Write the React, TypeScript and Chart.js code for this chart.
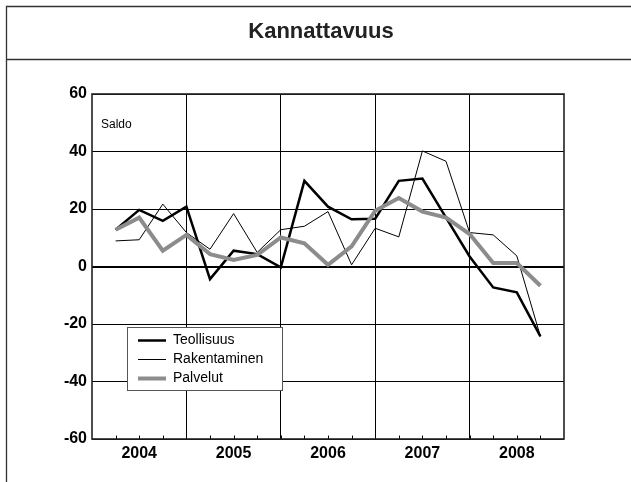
import React, { useEffect, useRef } from "react";
import { Chart, registerables } from "chart.js";

Chart.register(...registerables);

const chartTitle = "Kannattavuus";
const unitLabel = "Saldo";
const years = ["2004", "2005", "2006", "2007", "2008"];
const quarters = [
  "2004Q1", "2004Q2", "2004Q3", "2004Q4",
  "2005Q1", "2005Q2", "2005Q3", "2005Q4",
  "2006Q1", "2006Q2", "2006Q3", "2006Q4",
  "2007Q1", "2007Q2", "2007Q3", "2007Q4",
  "2008Q1", "2008Q2", "2008Q3",
];
const seriesNames = ["Teollisuus", "Rakentaminen", "Palvelut"];
const teollisuus = [12.8, 19.7, 15.9, 20.8, -4.4, 5.5, 4.3, -0.3, 29.8, 20.8, 16.4, 16.6, 29.8, 30.6, 17.0, 3.5, -7.3, -9.0, -24.3];
const rakentaminen = [8.9, 9.3, 21.7, 11.8, 6.0, 18.4, 4.9, 12.8, 14.0, 19.1, 0.6, 13.3, 10.3, 40.2, 36.6, 11.8, 11.0, 3.7, -24.3];
const palvelut = [12.8, 17.0, 5.5, 11.0, 4.3, 2.3, 4.0, 10.1, 8.1, 0.6, 7.0, 19.4, 23.8, 19.1, 17.0, 11.3, 1.2, 1.2, -6.7];
const yMin = -60;
const yMax = 60;
const yStep = 20;

const FONT = '"Liberation Sans", Arial, Helvetica, sans-serif';

const toPoints = (vals: number[]) => vals.map((v, i) => ({ x: i + 1, y: v }));

const decorPlugin = {
  id: "decor",
  beforeDraw(chart: any) {
    const ctx = chart.ctx;
    ctx.save();
    ctx.fillStyle = "#fff";
    ctx.fillRect(0, 0, chart.width, chart.height);
    ctx.strokeStyle = "#333";
    ctx.lineWidth = 1.3;
    ctx.beginPath();
    ctx.moveTo(6.5, chart.height);
    ctx.lineTo(6.5, 6.5);
    ctx.lineTo(chart.width, 6.5);
    ctx.moveTo(6.5, 59.5);
    ctx.lineTo(chart.width, 59.5);
    ctx.stroke();
    ctx.fillStyle = "#222";
    ctx.font = `bold 22px ${FONT}`;
    ctx.textAlign = "center";
    ctx.textBaseline = "middle";
    ctx.fillText(chartTitle, 321, 32);
    ctx.restore();
  },
  beforeDatasetsDraw(chart: any) {
    const ctx = chart.ctx;
    const a = chart.chartArea;
    const xs = chart.scales.x;
    ctx.save();
    // minor ticks (quarters) inside along bottom axis
    ctx.strokeStyle = "#000";
    ctx.lineWidth = 1;
    ctx.beginPath();
    for (let i = 1; i < quarters.length + 1; i++) {
      const px = Math.round(xs.getPixelForValue(i)) + 0.5;
      ctx.moveTo(px, a.bottom);
      ctx.lineTo(px, a.bottom - 3.5);
    }
    ctx.stroke();
    // plot border
    ctx.strokeStyle = "#222";
    ctx.lineWidth = 1.6;
    ctx.strokeRect(a.left, a.top, a.right - a.left, a.bottom - a.top);
    // unit label
    ctx.fillStyle = "#000";
    ctx.font = `12px ${FONT}`;
    ctx.textAlign = "left";
    ctx.textBaseline = "middle";
    ctx.fillText(unitLabel, a.left + 9, a.top + 31);
    ctx.restore();
  },
  afterDatasetsDraw(chart: any) {
    const ctx = chart.ctx;
    const a = chart.chartArea;
    const lx = a.left + 35;
    const ly = a.top + 233;
    const w = 155;
    const h = 63;
    ctx.save();
    ctx.fillStyle = "#fff";
    ctx.fillRect(lx, ly, w, h);
    ctx.strokeStyle = "#555";
    ctx.lineWidth = 1;
    ctx.strokeRect(lx + 0.5, ly + 0.5, w, h);
    ctx.font = `14px ${FONT}`;
    ctx.textAlign = "left";
    ctx.textBaseline = "middle";
    const dsList = chart.data.datasets;
    dsList.forEach((ds: any, i: number) => {
      const y = ly + 13.5 + i * 19;
      ctx.strokeStyle = ds.borderColor;
      ctx.lineWidth = ds.borderWidth;
      ctx.beginPath();
      ctx.moveTo(lx + 11, y);
      ctx.lineTo(lx + 39, y);
      ctx.stroke();
      ctx.fillStyle = "#000";
      ctx.fillText(ds.label, lx + 46, y);
    });
    ctx.restore();
  },
};

export default function App() {
  const ref = useRef<HTMLCanvasElement | null>(null);
  useEffect(() => {
    if (!ref.current) return;
    const chart = new Chart(ref.current, {
      type: "line",
      data: {
        datasets: [
          {
            label: seriesNames[0],
            data: toPoints(teollisuus),
            borderColor: "#000",
            borderWidth: 2.5,
            pointRadius: 0,
            tension: 0,
            order: 1,
          },
          {
            label: seriesNames[1],
            data: toPoints(rakentaminen),
            borderColor: "#000",
            borderWidth: 1,
            pointRadius: 0,
            tension: 0,
            order: 2,
          },
          {
            label: seriesNames[2],
            data: toPoints(palvelut),
            borderColor: "#8c8c8c",
            borderWidth: 4,
            pointRadius: 0,
            tension: 0,
            order: 0,
          },
        ],
      },
      options: {
        animation: false,
        responsive: false,
        devicePixelRatio: 1,
        layout: { padding: { top: 94, right: 67, left: 0, bottom: 0 } },
        plugins: {
          legend: { display: false },
          title: { display: false },
          tooltip: { enabled: false },
        },
        scales: {
          x: {
            type: "linear",
            min: 0,
            max: years.length * 4,
            afterFit: (s: any) => {
              s.height = 43;
            },
            border: { display: false },
            grid: {
              drawTicks: false,
              color: (c: any) => {
                const v = c.tick ? c.tick.value : -1;
                return v % 4 === 0 && v > 0 && v < years.length * 4 ? "#000" : "rgba(0,0,0,0)";
              },
              lineWidth: 1,
            },
            ticks: {
              stepSize: 1,
              maxTicksLimit: 100,
              autoSkip: false,
              maxRotation: 0,
              padding: 5,
              color: "#000",
              font: { family: FONT, size: 16, weight: "bold" },
              callback: (v: any) => {
                const n = Number(v);
                return (n - 2) % 4 === 0 ? years[(n - 2) / 4] : "";
              },
            },
          },
          y: {
            min: yMin,
            max: yMax,
            afterFit: (s: any) => {
              s.width = 92;
            },
            border: { display: false },
            grid: {
              drawTicks: false,
              color: "#000",
              lineWidth: (c: any) => (c.tick && c.tick.value === 0 ? 2 : 1),
            },
            ticks: {
              stepSize: yStep,
              padding: 5,
              color: "#000",
              font: { family: FONT, size: 16, weight: "bold" },
            },
          },
        },
      },
      plugins: [decorPlugin],
    } as any);
    return () => chart.destroy();
  }, []);
  return (
    <div style={{ position: "fixed", left: 0, top: 0, width: 631, height: 482 }}>
      <canvas ref={ref} width={631} height={482} style={{ width: 631, height: 482, display: "block" }} />
    </div>
  );
}
